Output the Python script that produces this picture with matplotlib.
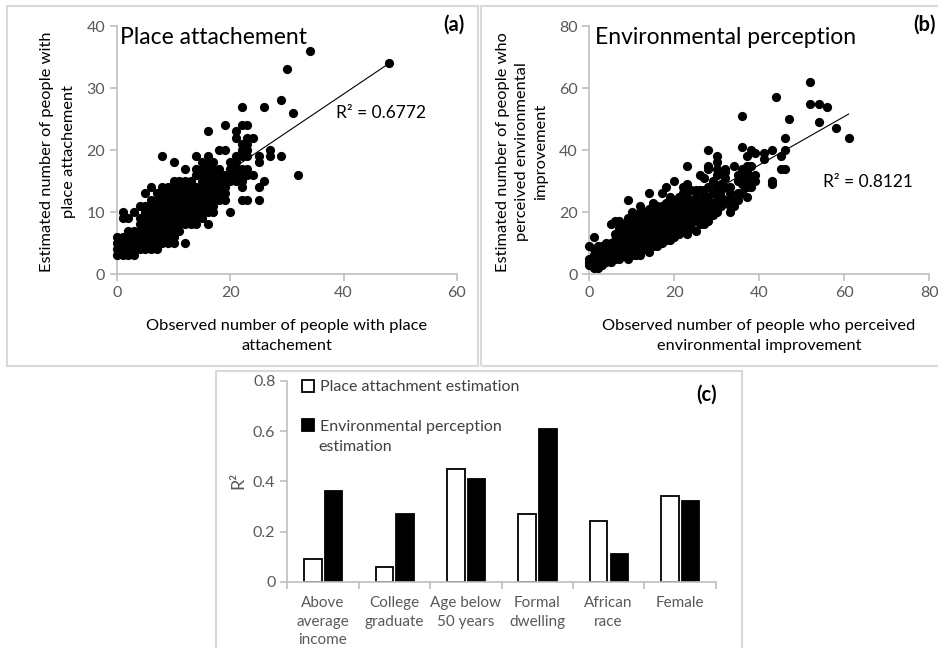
import matplotlib.pyplot as plt
from matplotlib.patches import Rectangle
import numpy as np

plt.rcParams['font.family'] = ['Lato', 'DejaVu Sans']

W, H = 938, 648
GRAY_AX = '#bfbfbf'
GRAY_TXT = '#595959'
GRAY_BOX = '#d9d9d9'

# (a) place attachement: observed count and the estimated counts seen at it
pa_obs = [0, 1, 2, 3, 4, 5, 6, 7, 8, 9, 10, 11, 12, 13, 14, 15, 16, 17, 18, 19,
          20, 21, 22, 23, 24, 25, 26, 27, 29, 30, 31, 32, 34, 48]
pa_est = [[3, 4, 5, 6], [3, 4, 5, 6, 9, 10], [3, 4, 5, 6, 7, 9], [3, 4, 5, 6, 7, 10],
          [4, 5, 6, 7, 8, 9, 11], [4, 5, 6, 7, 8, 9, 10, 11, 13],
          [4, 5, 6, 7, 8, 9, 10, 11, 12, 14], [4, 5, 6, 7, 8, 9, 10, 11, 12, 13],
          [5, 6, 7, 8, 9, 10, 11, 12, 13, 14, 19], [5, 6, 7, 8, 9, 10, 11, 12, 13, 14],
          [5, 6, 7, 8, 9, 10, 11, 12, 13, 14, 15, 18], [7, 8, 9, 10, 11, 12, 13, 14, 15],
          [5, 8, 9, 10, 11, 12, 13, 14, 15, 17], [8, 9, 10, 11, 12, 13, 14, 15],
          [8, 9, 10, 11, 12, 13, 14, 16, 17, 19], [9, 10, 11, 12, 13, 14, 15, 16, 17, 18],
          [8, 10, 11, 12, 13, 14, 15, 16, 17, 18, 19, 23], [10, 11, 12, 13, 14, 15, 16, 17, 18],
          [12, 13, 14, 15, 16, 17, 20], [12, 13, 14, 15, 16, 20, 24],
          [10, 15, 16, 17, 18], [15, 16, 17, 18, 19, 22, 23],
          [12, 14, 15, 16, 17, 19, 20, 21, 24, 27], [12, 16, 17, 19, 20, 21, 22, 24],
          [16, 22], [12, 14, 18, 19], [15, 27], [19, 20], [19, 28], [33], [26], [16],
          [36], [34]]
pa_fit = (0.615, 4.44)   # slope, intercept of the linear trendline
pa_r2 = 0.6772

# (b) environmental perception
pe_obs = [0, 1, 2, 3, 4, 5, 6, 7, 8, 9, 10, 11, 12, 13, 14, 15, 16, 17, 18, 19,
          20, 21, 22, 23, 24, 25, 26, 27, 28, 29, 30, 31, 32, 33, 34, 35, 36, 37,
          38, 39, 41, 43, 44, 45, 46, 47, 52, 54, 56, 58, 61]
pe_est = [[3, 4, 5, 9], [2, 4, 6, 8, 12], [2, 3, 5, 7, 9], [3, 5, 7, 9], [4, 6, 8, 10],
          [4, 6, 8, 10, 16], [5, 7, 9, 11, 13, 17], [5, 7, 9, 11, 13, 15, 17],
          [6, 8, 10, 12, 14, 16], [5, 7, 9, 11, 13, 15, 18, 24],
          [6, 8, 10, 12, 14, 16, 18, 20], [6, 8, 10, 12, 14, 16, 19],
          [6, 9, 11, 13, 15, 17, 20, 22], [8, 10, 12, 14, 16, 18, 20],
          [7, 9, 11, 13, 15, 17, 19, 21, 26], [9, 11, 13, 15, 17, 19, 21, 23],
          [9, 12, 14, 16, 18, 20, 22], [10, 12, 14, 16, 18, 20, 22, 26],
          [11, 13, 15, 17, 19, 21, 23, 28], [11, 13, 15, 17, 19, 21, 23, 25],
          [12, 14, 16, 18, 20, 22, 24, 30], [13, 15, 17, 19, 21, 23, 25],
          [14, 16, 18, 20, 22, 24, 26, 28], [13, 15, 17, 19, 21, 23, 25, 29, 35],
          [15, 17, 19, 21, 23, 27], [14, 17, 19, 21, 23, 25, 27],
          [16, 18, 20, 22, 24, 27, 32], [16, 19, 21, 23, 25, 27, 31],
          [17, 19, 21, 23, 25, 28, 34, 35, 40], [19, 21, 23, 26, 30],
          [20, 22, 24, 26, 28, 32, 34, 36, 38], [22, 25, 27, 29], [24, 28, 31, 33, 34],
          [20, 22, 24, 26, 28], [22, 24, 35], [24, 26, 30, 32],
          [26, 29, 31, 33, 34, 41, 51], [25, 28, 30, 33, 35, 38], [28, 30, 31, 35, 40],
          [30, 32, 39], [37, 39], [29, 30, 40], [57], [34, 38], [34, 40, 44], [50],
          [55, 62], [49, 55], [54], [47], [44]]
pe_fit = (0.78, 4.0)
pe_r2 = 0.8121

# (c) R2 by group
groups = ['Above\naverage\nincome', 'College\ngraduate', 'Age below\n50 years',
          'Formal\ndwelling', 'African\nrace', 'Female']
r2_place = [0.09, 0.06, 0.45, 0.27, 0.24, 0.34]
r2_env = [0.36, 0.27, 0.41, 0.61, 0.11, 0.32]


def fx(x):
    return x / W


def fy(y):
    return 1 - y / H


def axes_px(fig, l, t, r, b):
    return fig.add_axes([fx(l), fy(b), fx(r - l), (b - t) / H])


def style_axes(ax):
    for s in ['top', 'right']:
        ax.spines[s].set_visible(False)
    for s in ['left', 'bottom']:
        ax.spines[s].set_color(GRAY_AX)
        ax.spines[s].set_linewidth(1.2)
    ax.tick_params(colors=GRAY_AX, labelcolor=GRAY_TXT, labelsize=11.5,
                   length=5, width=1.2)


def scatter_panel(ax, obs, est, fit, xmax, ymax, step):
    xs = np.concatenate([[o] * len(e) for o, e in zip(obs, est)])
    ys = np.concatenate(est)
    ax.scatter(xs, ys, s=44, c='black', lw=0, zorder=3, clip_on=False)
    x_line = np.array([min(obs), max(obs)])
    ax.plot(x_line, fit[0] * x_line + fit[1], color='black', lw=0.8, zorder=4)
    ax.set_xlim(0, xmax)
    ax.set_ylim(0, ymax)
    ax.set_xticks(np.arange(0, xmax + 1, 20))
    ax.set_yticks(np.arange(0, ymax + 1, step))
    style_axes(ax)


fig = plt.figure(figsize=(W / 100, H / 100), dpi=100)

# panel frames
for (l, t, r, b) in [(7, 6, 478, 366), (481, 6, 945, 366), (216, 371, 742, 652)]:
    fig.patches.append(Rectangle((fx(l), fy(b)), fx(r - l), (b - t) / H,
                                 transform=fig.transFigure, fill=False,
                                 ec=GRAY_BOX, lw=1.5))

# (a)
ax1 = axes_px(fig, 117, 26, 457, 274)
scatter_panel(ax1, pa_obs, pa_est, pa_fit, 60, 40, 10)
ax1.text(38.7, 25.9, f'R² = {pa_r2}', fontsize=12.5, va='center')
fig.text(fx(120), fy(37), 'Place attachement', fontsize=16.5, va='center')
fig.text(fx(464), fy(25), '(a)', fontsize=14.5, fontweight='bold', ha='right', va='center')
fig.text(fx(58), fy(152), 'Estimated number of people with\nplace attachement',
         rotation=90, ha='center', va='center', fontsize=11.8, linespacing=1.65)
fig.text(fx(287), fy(336), 'Observed number of people with place\nattachement',
         ha='center', va='center', fontsize=11.8, linespacing=1.55)

# (b)
ax2 = axes_px(fig, 589.3, 26, 929.3, 274)
scatter_panel(ax2, pe_obs, pe_est, pe_fit, 80, 80, 20)
ax2.text(55, 29.8, f'R² = {pe_r2}', fontsize=12.5, va='center')
fig.text(fx(595), fy(37), 'Environmental perception', fontsize=16.5, va='center')
fig.text(fx(936), fy(25), '(b)', fontsize=14.5, fontweight='bold', ha='right', va='center')
fig.text(fx(522), fy(152),
         'Estimated number of people who\nperceived environmental\nimprovement',
         rotation=90, ha='center', va='center', fontsize=11.8, linespacing=1.5)
fig.text(fx(759), fy(336),
         'Observed number of people who perceived\nenvironmental improvement',
         ha='center', va='center', fontsize=11.8, linespacing=1.55)

# (c)
ax3 = axes_px(fig, 287.3, 381, 715.7, 581.7)
pos = np.arange(len(groups))
bw = 0.245
b1 = ax3.bar(pos - 0.14, r2_place, bw, color='white', edgecolor='black', lw=1.3,
             label='Place attachment estimation')
b2 = ax3.bar(pos + 0.15, r2_env, bw, color='black', edgecolor='black', lw=1.3,
             label='Environmental perception')
ax3.set_xlim(-0.5, len(groups) - 0.5)
ax3.set_ylim(0, 0.8)
ax3.set_yticks([0, 0.2, 0.4, 0.6, 0.8])
ax3.set_yticklabels(['0', '0.2', '0.4', '0.6', '0.8'])
style_axes(ax3)
ax3.set_xticks(pos)
ax3.set_xticklabels(groups, linespacing=1.45, fontsize=11)
ax3.tick_params(axis='x', length=0, pad=10)
ax3.set_xticks(np.arange(-0.5, len(groups), 1), minor=True)
ax3.tick_params(axis='x', which='minor', length=5, width=1.2, color=GRAY_AX)
fig.text(fx(238), fy(480), 'R²', rotation=90, ha='center', va='center',
         fontsize=13, color=GRAY_TXT)
ax3.legend(handles=[b1, b2], loc='upper left', frameon=False,
           bbox_to_anchor=(fx(302), fy(380)), bbox_transform=fig.transFigure,
           fontsize=11.5, handlelength=0.75, handleheight=0.75, handletextpad=0.35,
           labelspacing=1.55, borderpad=0, borderaxespad=0, labelcolor='#404040')
fig.text(fx(318), fy(447), 'estimation', fontsize=11.5, va='center', color='#404040')
fig.text(fx(717), fy(395), '(c)', fontsize=14.5, fontweight='bold', ha='right', va='center')

fig.savefig('out.png', dpi=100)
